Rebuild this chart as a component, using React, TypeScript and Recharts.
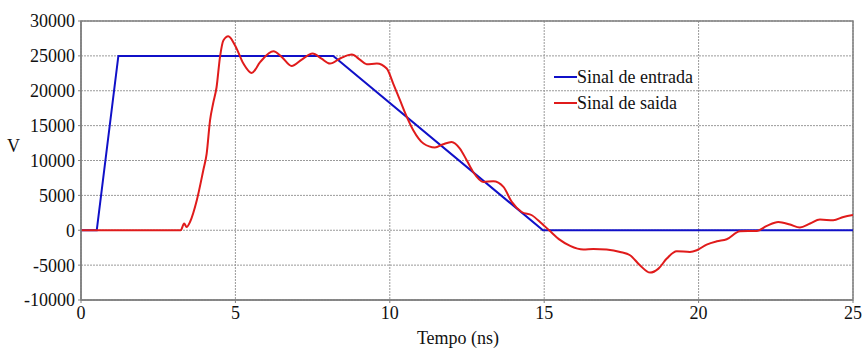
import React from 'react';
import { LineChart, Line, XAxis, YAxis, CartesianGrid, ReferenceArea } from 'recharts';

const xTicks = [0, 5, 10, 15, 20, 25];
const yTicks = [-10000, -5000, 0, 5000, 10000, 15000, 20000, 25000, 30000];

const entradaT = [0, 0.51, 1.21, 8.17, 14.96, 25];
const entradaV = [0, 0, 25000, 25000, 0, 0];

const saidaT = [
  0, 3.23, 3.34, 3.42, 3.53, 3.75, 3.96, 4.07, 4.18, 4.28, 4.39, 4.5, 4.61, 4.77, 4.99,
  5.26, 5.53, 5.8, 6.23, 6.5, 6.82, 7.15, 7.5, 7.79, 8.06, 8.42, 8.77, 9.03, 9.25, 9.58,
  9.9, 10.11, 10.33, 10.55, 10.76, 11.09, 11.46, 11.73, 12.0, 12.27, 12.49, 12.7, 13.03,
  13.35, 13.68, 13.95, 14.27, 14.6, 14.92, 15.16, 15.51, 15.84, 16.27, 16.59, 17.02,
  17.46, 17.78, 18.1, 18.43, 18.7, 18.97, 19.29, 19.72, 19.94, 20.26, 20.59, 20.91,
  21.34, 21.88, 22.21, 22.58, 22.96, 23.28, 23.61, 23.93, 24.36, 24.69, 25,
];
const saidaV = [
  0, 0, 960, 470, 1190, 4300, 8600, 11000, 15800, 18200, 20500, 24800, 27200, 27800, 26500,
  23900, 22550, 24100, 25650, 24850, 23550, 24470, 25330, 24600, 23900, 24700, 25190, 24470, 23800, 23900,
  23180, 21030, 18640, 16250, 14340, 12430, 11860, 12330, 12660, 11710, 10040, 8360, 6930,
  7020, 6210, 4060, 2620, 2150, 960, 0, -1380, -2250, -2770, -2680, -2770,
  -3110, -3580, -5020, -6070, -5500, -4060, -3010, -3110, -2870, -2050, -1580, -1290,
  -140, -100, 620, 1190, 820, 390, 960, 1530, 1430, 1910, 2200,
];

const seriesNames = ['Sinal de entrada', 'Sinal de saida'];

const entradaData = entradaT.map((t, i) => ({ t, v: entradaV[i] }));
const saidaData = saidaT.map((t, i) => ({ t, v: saidaV[i] }));

const BLUE = '#1010c8';
const RED = '#e01b1b';
const FONT = '"Liberation Serif", "Times New Roman", serif';

const LegendBox = () => (
  <div
    style={{
      position: 'absolute',
      left: 554,
      top: 64,
      fontFamily: FONT,
      fontSize: 18,
      color: '#111',
      lineHeight: '26px',
    }}
  >
    {[
      { name: seriesNames[0], color: BLUE },
      { name: seriesNames[1], color: RED },
    ].map((it) => (
      <div key={it.name} style={{ display: 'flex', alignItems: 'center', whiteSpace: 'nowrap' }}>
        <svg width={23} height={26} style={{ display: 'block' }}>
          <line x1={0} x2={23} y1={13} y2={13} stroke={it.color} strokeWidth={2} />
        </svg>
        <span>{it.name}</span>
      </div>
    ))}
  </div>
);

export default function App() {
  return (
    <div style={{ position: 'absolute', left: 0, top: 0, width: 864, height: 349, background: '#fff' }}>
      <LineChart width={864} height={349} margin={{ top: 21, right: 11, bottom: 0, left: 0 }}>
        <CartesianGrid stroke="#9a9a9a" strokeDasharray="2 1" />
        <XAxis
          type="number"
          dataKey="t"
          domain={[0, 25]}
          ticks={xTicks}
          allowDataOverflow
          height={49}
          tickSize={3}
          tickMargin={3}
          axisLine={{ stroke: '#808080', strokeWidth: 1.5 }}
          tickLine={{ stroke: '#808080' }}
          tick={{ fill: '#111', fontSize: 18, fontFamily: FONT }}
          label={{ value: 'Tempo (ns)', position: 'insideBottom', offset: 5, dx: -9, fill: '#111', fontSize: 18, fontFamily: FONT }}
        />
        <YAxis
          type="number"
          domain={[-10000, 30000]}
          ticks={yTicks}
          allowDataOverflow
          width={81}
          tickSize={3}
          tickMargin={3}
          axisLine={{ stroke: '#808080', strokeWidth: 1.5 }}
          tickLine={{ stroke: '#808080' }}
          tick={{ fill: '#111', fontSize: 18, fontFamily: FONT }}
          label={{ value: 'V', position: 'insideLeft', offset: 7, dy: -15, fill: '#111', fontSize: 18, fontFamily: FONT }}
        />
        <ReferenceArea x1={0} x2={25} y1={-10000} y2={30000} fill="none" stroke="#808080" strokeWidth={1.5} fillOpacity={0} />
        <Line
          data={entradaData}
          dataKey="v"
          type="linear"
          stroke={BLUE}
          strokeWidth={2}
          dot={false}
          isAnimationActive={false}
          name={seriesNames[0]}
        />
        <Line
          data={saidaData}
          dataKey="v"
          type="monotone"
          stroke={RED}
          strokeWidth={2}
          dot={false}
          isAnimationActive={false}
          name={seriesNames[1]}
        />
      </LineChart>
      <LegendBox />
    </div>
  );
}
